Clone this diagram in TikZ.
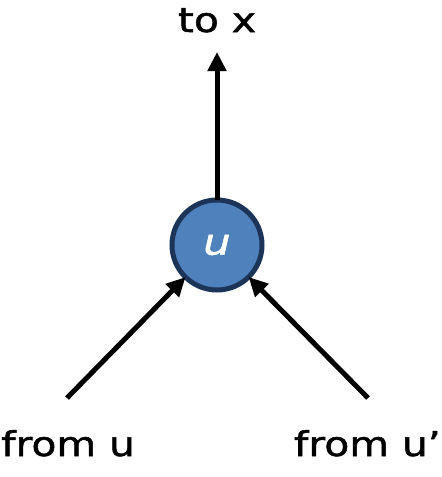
\documentclass[tikz,border=0pt]{standalone}
\usepackage{fontspec}
\setmainfont{DejaVu Sans}[FakeStretch=1.2, FakeBold=1.5]
\usetikzlibrary{arrows.meta}

\definecolor{unitfill}{RGB}{79,129,189}
\definecolor{unitdraw}{RGB}{28,52,88}

\begin{document}
\begin{tikzpicture}[
  x=1pt, y=-1pt,
  unit/.style={
    circle, fill=unitfill, draw=unitdraw, line width=5pt,
    minimum size=90pt, inner sep=0pt, outer sep=0pt,
    text=white, font=\fontsize{36}{40}\selectfont\itshape
  },
  lbl/.style={font=\fontsize{34}{40}\selectfont, inner sep=0pt},
  arr/.style={-{Triangle[length=19pt,width=18pt]}, line width=5pt, black}
]
\useasboundingbox (0,0) rectangle (442,477);

%% hidden unit
\node[unit] (u) at (217,245) {u};

%% output
\node[lbl, anchor=base] (tox) at (217,32) {to x};
\coordinate (outtip) at (217,52);
\draw[arr] (u) -- (outtip);

%% inputs
\node[lbl, anchor=base west] (fromu) at (1,456) {from u};
\node[lbl, anchor=base east] (fromup) at (441,456) {from u'};
\coordinate (inl) at (67,398);
\coordinate (inr) at (368,398);
\draw[arr] (inl) -- (u);
\draw[arr] (inr) -- (u);

\end{tikzpicture}
\end{document}
